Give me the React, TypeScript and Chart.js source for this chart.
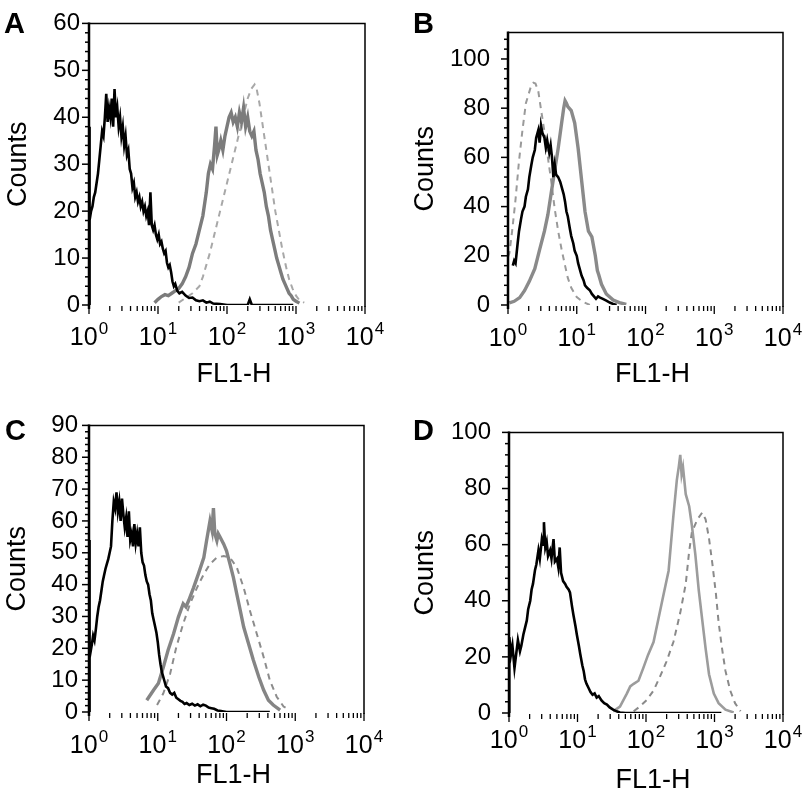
import React, { useEffect, useRef } from "react";
import { Chart, registerables } from "chart.js";

Chart.register(...registerables);

const FONT = "'Liberation Sans', Arial, Helvetica, sans-serif";

// ---------- labels ----------
const PANEL_LETTERS = ["A", "B", "C", "D"];
const X_TITLE = "FL1-H";
const Y_TITLE = "Counts";
const DECADE_EXPONENTS = [0, 1, 2, 3, 4]; // x tick labels 10^0 ... 10^4
const Y_MAX = [60, 110.8, 90, 100];
const Y_STEP = [10, 20, 10, 20];

// ---------- data: [log10(FL1-H), counts] ----------
const A_BLACK = [
  [0, 0], [0.004, 38], [0.012, 18], [0.03, 20], [0.05, 21], [0.07, 23], [0.09, 24], [0.11, 26], [0.13, 28],
  [0.15, 31], [0.17, 34], [0.19, 37], [0.21, 36], [0.23, 40], [0.25, 45], [0.27, 39], [0.29, 42], [0.31, 40],
  [0.33, 44], [0.35, 38], [0.37, 46], [0.39, 40], [0.41, 42], [0.43, 38], [0.45, 40], [0.47, 36], [0.49, 38],
  [0.51, 34], [0.53, 36], [0.55, 32], [0.57, 33], [0.59, 29], [0.61, 28], [0.63, 25], [0.65, 26], [0.67, 23],
  [0.69, 24], [0.71, 22], [0.73, 23], [0.75, 21], [0.77, 22], [0.79, 20], [0.81, 21], [0.83, 19], [0.85, 20],
  [0.87, 17], [0.89, 24], [0.91, 17], [0.93, 16], [0.95, 17], [0.97, 15], [0.99, 14], [1.01, 15], [1.03, 13],
  [1.05, 13.5], [1.07, 12], [1.09, 11], [1.11, 11.5], [1.13, 9], [1.15, 8], [1.17, 8.5], [1.19, 7], [1.21, 5],
  [1.23, 4], [1.25, 4.5], [1.28, 3], [1.31, 2.5], [1.35, 2.8], [1.4, 2], [1.45, 1.5], [1.5, 1.6], [1.55, 1],
  [1.6, 0.8], [1.65, 1], [1.7, 0.5], [1.75, 0.7], [1.8, 0.3], [1.9, 0.2], [2.0, 0], [2.3, 0], [2.33, 1.2],
  [2.36, 0], [2.96, 0],
];
const A_GREY = [
  [0.95, 0.5], [1.0, 1.2], [1.05, 1.8], [1.1, 2.2], [1.15, 2.0], [1.2, 2.5], [1.25, 3], [1.3, 3.5], [1.35, 4.5],
  [1.4, 6], [1.45, 8], [1.5, 11], [1.55, 13], [1.6, 16], [1.65, 19], [1.7, 24], [1.73, 28], [1.76, 30],
  [1.79, 29], [1.82, 34], [1.84, 38], [1.86, 32], [1.88, 33], [1.91, 35], [1.94, 33], [1.97, 36], [2.0, 38],
  [2.03, 40], [2.06, 41], [2.09, 39], [2.12, 40], [2.15, 38], [2.18, 41], [2.21, 39], [2.24, 42], [2.27, 38],
  [2.3, 40], [2.33, 37], [2.36, 36], [2.39, 37], [2.42, 33], [2.45, 31], [2.48, 28], [2.51, 26], [2.54, 24],
  [2.57, 21], [2.6, 19], [2.63, 16], [2.66, 14], [2.69, 12], [2.72, 10], [2.75, 8.5], [2.78, 7], [2.81, 5.5],
  [2.84, 4.5], [2.87, 3.5], [2.9, 2.5], [2.93, 2], [2.96, 1.2], [3.0, 0.8], [3.05, 0.4],
];
const A_DASH = [
  [1.3, 0.5], [1.4, 1.5], [1.5, 2.5], [1.6, 4], [1.65, 6], [1.7, 8.5], [1.75, 11], [1.8, 14], [1.85, 17],
  [1.9, 20], [1.95, 23], [2.0, 26], [2.05, 29], [2.1, 32], [2.15, 35], [2.2, 38], [2.25, 41], [2.3, 44],
  [2.35, 46], [2.4, 47], [2.43, 46], [2.47, 43], [2.5, 40], [2.55, 35], [2.6, 30], [2.65, 25], [2.7, 20],
  [2.75, 16], [2.8, 12], [2.85, 8.5], [2.9, 5.5], [2.95, 3.5], [3.0, 2], [3.05, 1], [3.12, 0.5],
];

const B_BLACK = [
  [0.07, 16], [0.09, 18], [0.11, 17], [0.14, 25], [0.16, 30], [0.19, 35], [0.21, 38], [0.24, 40], [0.26, 44],
  [0.29, 47], [0.31, 52], [0.34, 57], [0.36, 60], [0.39, 63], [0.41, 68], [0.44, 71], [0.46, 66], [0.48, 73],
  [0.5, 70], [0.53, 68], [0.55, 64], [0.57, 67], [0.6, 62], [0.62, 65], [0.64, 60], [0.66, 52], [0.68, 57],
  [0.7, 53], [0.73, 52], [0.76, 50], [0.78, 48], [0.81, 45], [0.83, 42], [0.85, 38], [0.87, 36], [0.9, 31],
  [0.92, 28], [0.95, 25], [0.97, 22], [1.0, 20], [1.02, 17], [1.05, 14], [1.07, 12], [1.1, 10], [1.12, 8],
  [1.15, 7], [1.19, 6], [1.22, 4.5], [1.25, 3.5], [1.28, 2.5], [1.31, 3.5], [1.34, 3], [1.38, 2.5],
  [1.43, 1.8], [1.48, 1], [1.53, 0.4], [1.58, 0],
];
const B_GREY = [
  [0.02, 0.9], [0.09, 1.5], [0.17, 3], [0.24, 5.8], [0.31, 9.6], [0.39, 14.8], [0.46, 22.5], [0.53, 30],
  [0.58, 36.7], [0.63, 45.8], [0.68, 54.8], [0.73, 63.7], [0.78, 74], [0.81, 80], [0.83, 83], [0.85, 82],
  [0.87, 80.6], [0.92, 79], [0.97, 74], [1.02, 63.7], [1.07, 50.8], [1.12, 38], [1.17, 30], [1.22, 27.7],
  [1.27, 20], [1.3, 14], [1.32, 12.3], [1.36, 8.4], [1.43, 4.5], [1.53, 2], [1.62, 1], [1.72, 0.2],
];
const B_DASH = [
  [0.0, 19.6], [0.02, 21], [0.06, 30], [0.11, 43], [0.16, 58.5], [0.21, 71], [0.26, 82], [0.33, 88.5],
  [0.37, 90.3], [0.4, 90], [0.44, 87], [0.48, 79.5], [0.53, 70.5], [0.58, 60], [0.63, 50], [0.68, 39],
  [0.73, 30], [0.78, 22.5], [0.83, 16], [0.87, 11], [0.92, 7], [1.0, 3.2], [1.09, 1.3], [1.19, 0],
];

const C_BLACK = [
  [0, 0], [0.004, 54], [0.012, 17], [0.04, 21], [0.06, 24], [0.08, 22.5], [0.1, 26], [0.12, 30], [0.14, 33],
  [0.16, 35], [0.18, 38], [0.2, 41], [0.22, 43], [0.24, 45], [0.26, 46.5], [0.28, 48], [0.3, 50], [0.32, 52],
  [0.34, 60], [0.36, 66], [0.38, 64], [0.4, 69], [0.42, 63], [0.44, 66], [0.46, 60], [0.48, 67], [0.5, 62],
  [0.52, 58], [0.54, 61], [0.56, 55], [0.58, 63], [0.6, 54], [0.62, 56], [0.64, 52], [0.66, 59], [0.68, 53],
  [0.7, 56], [0.72, 52], [0.74, 58], [0.76, 50], [0.78, 47], [0.8, 46], [0.82, 43], [0.84, 41], [0.86, 40],
  [0.88, 37], [0.9, 35], [0.92, 31], [0.94, 29], [0.96, 27], [0.98, 25], [1.0, 22], [1.02, 18], [1.04, 15],
  [1.06, 12.5], [1.08, 11], [1.1, 9.5], [1.12, 8], [1.15, 7.5], [1.18, 6], [1.21, 5.5], [1.24, 6], [1.27, 4.5],
  [1.3, 4], [1.33, 3.5], [1.36, 3.2], [1.39, 2.5], [1.42, 2.8], [1.46, 2.2], [1.5, 2.6], [1.54, 2], [1.58, 2.4],
  [1.62, 1.8], [1.66, 2.3], [1.7, 2], [1.74, 1.4], [1.78, 1.2], [1.82, 1], [1.87, 0.5], [1.92, 0.3], [2.0, 0],
  [2.63, 0],
];
const C_GREY = [
  [0.84, 3.7], [0.94, 6.9], [1.01, 9], [1.08, 14], [1.15, 19.4], [1.23, 24.6], [1.3, 29.8], [1.37, 34],
  [1.41, 33], [1.45, 35], [1.52, 39], [1.59, 43.3], [1.67, 48.5], [1.71, 53.8], [1.76, 60], [1.79, 57],
  [1.81, 64], [1.83, 56], [1.86, 53.8], [1.88, 56], [1.91, 54.8], [1.96, 52.7], [2.0, 50.6], [2.05, 46.5],
  [2.1, 42.3], [2.15, 37], [2.2, 31.9], [2.25, 26.7], [2.32, 21.5], [2.39, 16.3], [2.47, 11], [2.54, 6.9],
  [2.61, 3.7], [2.68, 2.2], [2.78, 0.6],
];
const C_DASH = [
  [0.99, 2.2], [1.08, 5.8], [1.18, 12], [1.27, 20.4], [1.37, 27.7], [1.47, 34], [1.57, 39], [1.67, 43.3],
  [1.76, 46.5], [1.86, 48.5], [1.96, 49], [2.05, 48.5], [2.15, 45.4], [2.25, 39], [2.34, 31.9], [2.44, 24.6],
  [2.54, 17.3], [2.63, 10], [2.73, 4.8], [2.83, 1.7], [2.92, 0.6],
];

const D_BLACK = [
  [0, 0], [0.004, 27], [0.03, 21], [0.05, 24], [0.08, 16], [0.1, 20], [0.13, 26], [0.16, 22], [0.18, 24],
  [0.21, 28], [0.23, 30], [0.26, 33], [0.28, 37], [0.31, 40], [0.33, 44], [0.35, 46], [0.38, 51], [0.4, 53],
  [0.43, 58], [0.45, 55], [0.48, 62], [0.5, 60], [0.51, 68], [0.53, 59], [0.55, 61], [0.57, 56], [0.6, 58],
  [0.62, 55], [0.65, 62], [0.67, 54], [0.7, 55], [0.72, 52], [0.74, 59], [0.76, 50], [0.79, 47], [0.82, 46],
  [0.84, 45], [0.87, 44], [0.89, 43], [0.92, 38], [0.94, 35], [0.97, 31], [0.99, 28], [1.02, 24], [1.04, 21],
  [1.07, 17], [1.09, 15], [1.11, 12], [1.13, 10.5], [1.16, 9], [1.19, 7.5], [1.22, 6.5], [1.25, 7], [1.28, 5.5],
  [1.31, 6], [1.35, 4.5], [1.39, 3.5], [1.43, 3], [1.47, 2], [1.52, 1.2], [1.57, 0.6], [1.62, 0.2], [1.7, 0],
  [3.1, 0],
];
const D_GREY = [
  [1.52, 0.6], [1.62, 2.3], [1.72, 6.9], [1.77, 9.5], [1.82, 10.4], [1.89, 11.5], [1.96, 16], [2.03, 20.7],
  [2.11, 25.3], [2.18, 33.4], [2.25, 41.5], [2.33, 50.7], [2.4, 70.3], [2.45, 83], [2.48, 88], [2.5, 92],
  [2.52, 85], [2.54, 87.6], [2.58, 78], [2.63, 73.7], [2.67, 66.8], [2.72, 56.5], [2.77, 43.8], [2.82, 33.4],
  [2.87, 23], [2.92, 13.8], [2.99, 6.9], [3.06, 3.5], [3.16, 1.2], [3.28, 0.2],
];
const D_DASH = [
  [1.82, 0.6], [1.91, 2.3], [2.01, 4.6], [2.11, 8], [2.2, 12.7], [2.3, 18.4], [2.4, 25.3], [2.5, 35.7],
  [2.58, 46], [2.63, 57.6], [2.67, 64.5], [2.75, 69], [2.82, 71.4], [2.87, 69], [2.92, 62.2], [2.97, 53],
  [3.02, 42.6], [3.06, 32.3], [3.11, 23], [3.16, 15], [3.23, 8], [3.3, 3.5], [3.38, 0.6],
];

// ---------- layout / style (not data) ----------
const PANELS = [
  {
    left: 0, top: 0, w: 400, h: 400, yW: 89, padR: 35, padT: 18, xH: 95,
    tickPad: 9, yTitlePad: 2, letterX: 4, letterY: 33, lblOff: 40, xTitleY: 382,
    series: [A_BLACK, A_GREY, A_DASH], grey: "#7c7c7c", greyW: 3.4, dash: "#a8a8a8",
  },
  {
    left: 400, top: 0, w: 405, h: 400, yW: 108, padR: 22, padT: 18, xH: 95,
    tickPad: 18, yTitlePad: 9, letterX: 13, letterY: 33, lblOff: 41, xTitleY: 382,
    series: [B_BLACK, B_GREY, B_DASH], grey: "#8a8a8a", greyW: 3.4, dash: "#9a9a9a",
  },
  {
    left: 0, top: 400, w: 400, h: 393, yW: 89, padR: 36, padT: 24, xH: 81,
    tickPad: 11, yTitlePad: 1, letterX: 5, letterY: 40, lblOff: 41, xTitleY: 383,
    series: [C_BLACK, C_GREY, C_DASH], grey: "#858585", greyW: 3.4, dash: "#8c8c8c",
  },
  {
    left: 400, top: 400, w: 405, h: 393, yW: 109, padR: 22, padT: 24, xH: 80,
    tickPad: 18, yTitlePad: 9, letterX: 13, letterY: 40, lblOff: 35, xTitleY: 388,
    series: [D_BLACK, D_GREY, D_DASH], grey: "#9c9c9c", greyW: 2.6, dash: "#8a8a8a",
  },
];

const decorPlugin = {
  id: "panelDecor",
  afterDraw(chart: any, _args: any, opts: any) {
    const { ctx, chartArea: a, scales } = chart;
    const xs = scales.x;
    const ys = scales.y;
    ctx.save();
    ctx.strokeStyle = "#000";
    ctx.fillStyle = "#000";

    // frame: top and right
    ctx.lineWidth = 1.5;
    ctx.beginPath();
    ctx.moveTo(a.left, a.top);
    ctx.lineTo(a.right, a.top);
    ctx.lineTo(a.right, a.bottom + 2);
    ctx.stroke();

    // left axis
    ctx.lineWidth = 2.5;
    ctx.beginPath();
    ctx.moveTo(a.left, a.top - 1);
    ctx.lineTo(a.left, a.bottom + 4);
    ctx.stroke();

    // y tick marks
    ctx.lineWidth = 1.5;
    const minor = opts.step / 5;
    const n = Math.floor(ys.max / minor + 1e-6);
    for (let i = 0; i <= n; i++) {
      const py = ys.getPixelForValue(i * minor);
      const len = i % 5 === 0 ? 7 : 4;
      ctx.beginPath();
      ctx.moveTo(a.left, py);
      ctx.lineTo(a.left - len, py);
      ctx.stroke();
    }

    // x tick marks (log decades with minor 2..9)
    ctx.lineWidth = 1.3;
    for (let k = 0; k < DECADE_EXPONENTS.length; k++) {
      const e = DECADE_EXPONENTS[k];
      for (let m = 1; m <= 9; m++) {
        if (k === DECADE_EXPONENTS.length - 1 && m > 1) break;
        const px = xs.getPixelForValue(m * Math.pow(10, e));
        const len = m === 1 ? 8 : 5;
        ctx.beginPath();
        ctx.moveTo(px, a.bottom + 1);
        ctx.lineTo(px, a.bottom + 1 + len);
        ctx.stroke();
      }
    }

    // x tick labels 10^k
    const base = a.bottom + opts.lblOff;
    for (const e of DECADE_EXPONENTS) {
      const px = xs.getPixelForValue(Math.pow(10, e));
      ctx.font = `25px ${FONT}`;
      const w1 = ctx.measureText("10").width;
      ctx.font = `17px ${FONT}`;
      const w2 = ctx.measureText(String(e)).width;
      const start = px - (w1 + w2 + 1) / 2;
      ctx.textAlign = "left";
      ctx.textBaseline = "alphabetic";
      ctx.font = `25px ${FONT}`;
      ctx.fillText("10", start, base);
      ctx.font = `17px ${FONT}`;
      ctx.fillText(String(e), start + w1 + 1, base - 11);
    }

    // x title
    ctx.font = `27px ${FONT}`;
    ctx.textAlign = "center";
    ctx.fillText(X_TITLE, (a.left + a.right) / 2 + 7, opts.xTitleY);

    // panel letter
    ctx.font = `bold 29px ${FONT}`;
    ctx.textAlign = "left";
    ctx.fillText(opts.letter, opts.letterX, opts.letterY);
    ctx.restore();
  },
};

function toPoints(series: number[][]) {
  return series.map(([d, c]) => ({ x: Math.pow(10, d), y: c }));
}

function Panel({ idx }: { idx: number }) {
  const ref = useRef<HTMLCanvasElement | null>(null);
  const p = PANELS[idx];
  useEffect(() => {
    if (!ref.current) return;
    const [black, grey, dash] = p.series;
    const chart = new Chart(ref.current, {
      type: "line",
      data: {
        datasets: [
          { data: toPoints(black), borderColor: "#000", borderWidth: 2.6, pointRadius: 0, tension: 0, fill: false },
          { data: toPoints(grey), borderColor: p.grey, borderWidth: p.greyW, pointRadius: 0, tension: 0, fill: false },
          {
            data: toPoints(dash), borderColor: p.dash, borderWidth: 2, borderDash: [6, 5],
            pointRadius: 0, tension: 0, fill: false,
          },
        ],
      },
      options: {
        animation: false,
        responsive: false,
        devicePixelRatio: 1,
        layout: { padding: { left: 0, top: p.padT, right: p.padR, bottom: 0 } },
        plugins: {
          legend: { display: false },
          tooltip: { enabled: false },
          panelDecor: {
            step: Y_STEP[idx], lblOff: p.lblOff, xTitleY: p.xTitleY,
            letter: PANEL_LETTERS[idx], letterX: p.letterX, letterY: p.letterY,
          },
        } as any,
        scales: {
          x: {
            type: "logarithmic",
            min: 1,
            max: 10000,
            grid: { display: false, drawTicks: false },
            border: { display: false },
            ticks: { display: false },
            afterFit: (s: any) => { s.height = p.xH; },
          },
          y: {
            type: "linear",
            min: 0,
            max: Y_MAX[idx],
            grid: { display: false, drawTicks: false },
            border: { display: false },
            ticks: {
              stepSize: Y_STEP[idx],
              includeBounds: false,
              padding: p.tickPad,
              color: "#000",
              font: { family: FONT, size: 24 },
            },
            title: {
              display: true,
              text: Y_TITLE,
              color: "#000",
              font: { family: FONT, size: 27 },
              padding: { top: p.yTitlePad, bottom: 0 },
            },
            afterFit: (s: any) => { s.width = p.yW; },
          },
        },
      } as any,
      plugins: [decorPlugin],
    });
    return () => chart.destroy();
  }, [idx]);
  return (
    <canvas
      ref={ref}
      width={p.w}
      height={p.h}
      style={{ position: "absolute", left: p.left, top: p.top, width: p.w, height: p.h }}
    />
  );
}

export default function App() {
  return (
    <div style={{ position: "absolute", left: 0, top: 0, width: 805, height: 793, background: "#fff" }}>
      {PANELS.map((_, i) => (
        <Panel key={i} idx={i} />
      ))}
    </div>
  );
}
